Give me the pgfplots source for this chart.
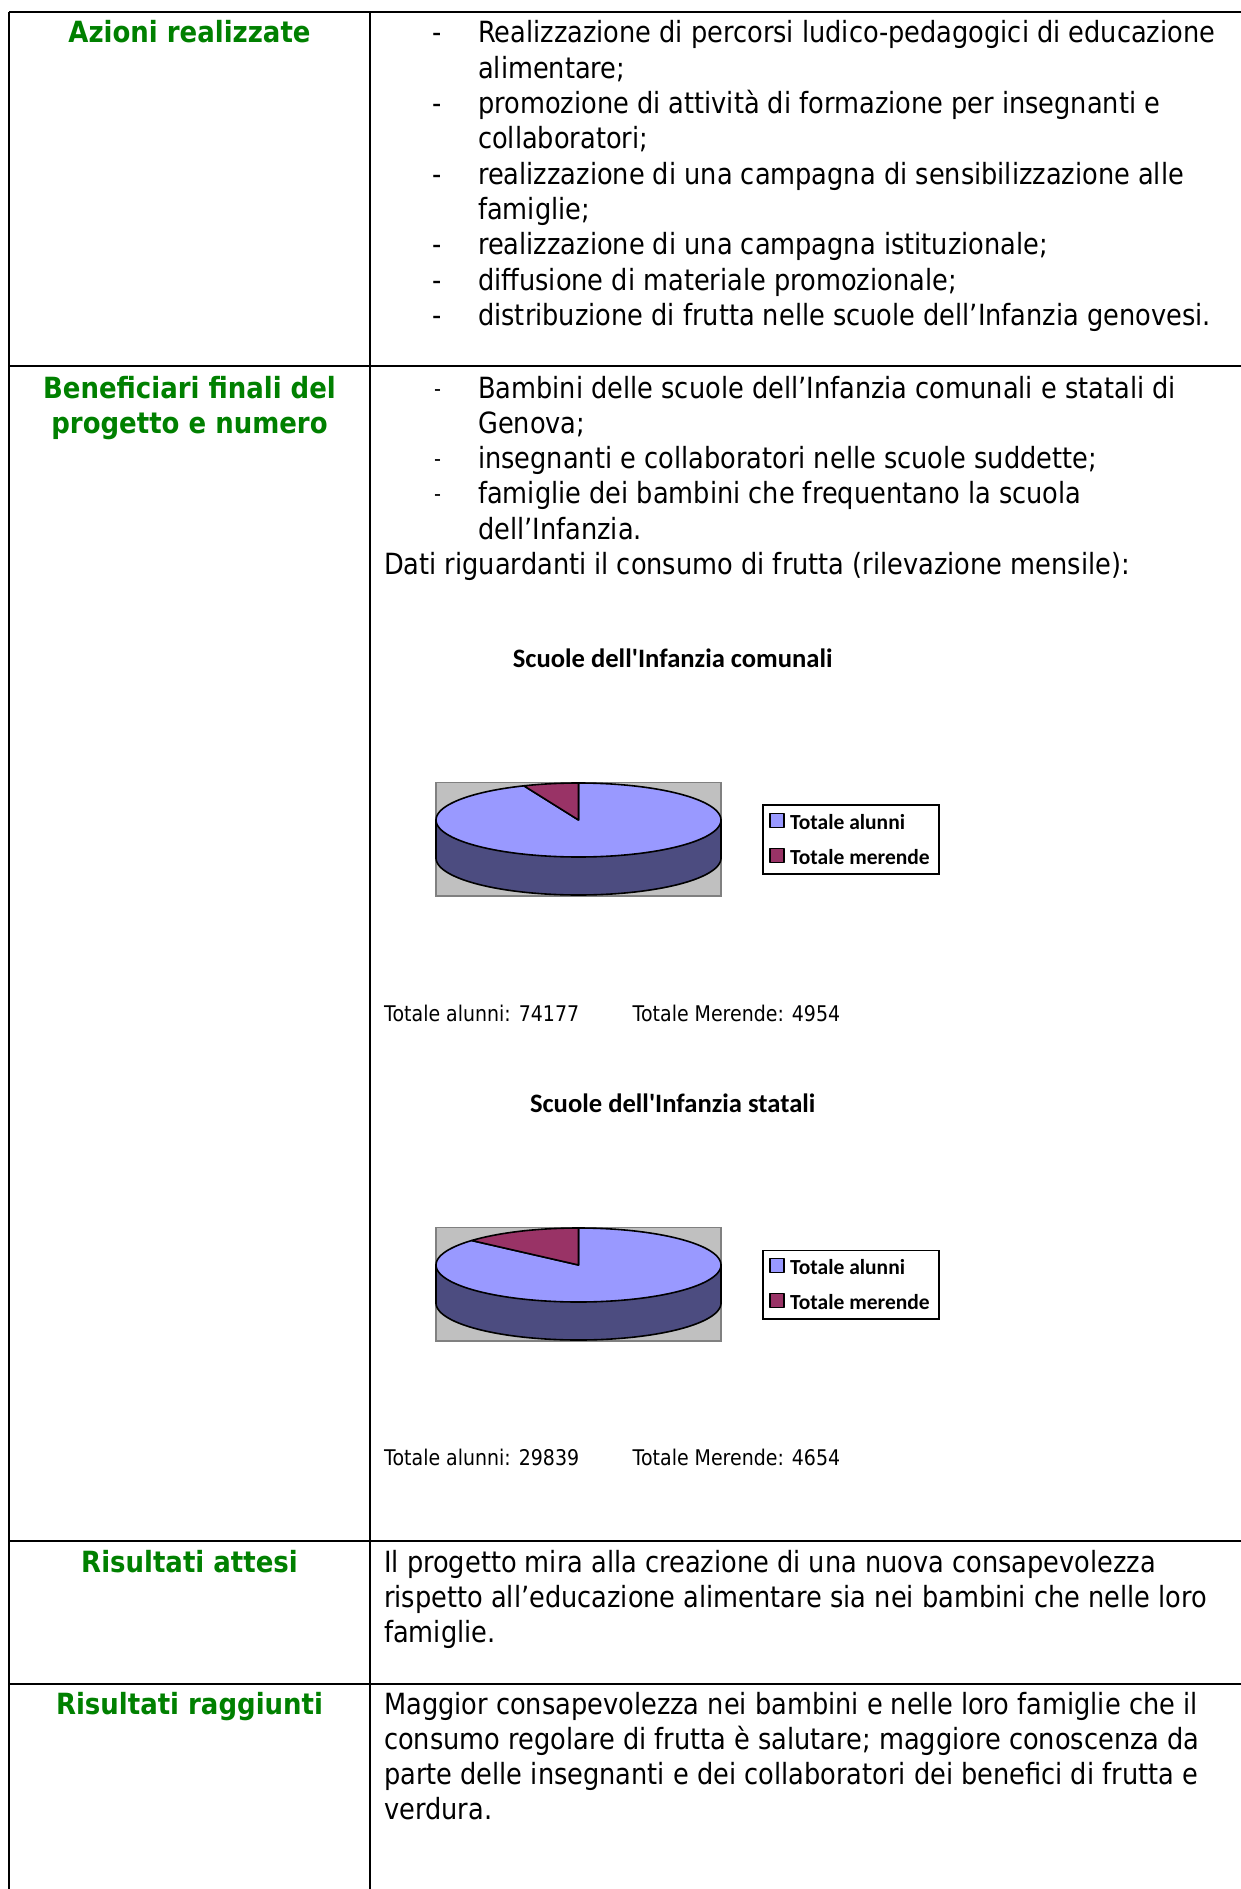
\documentclass[border=0pt]{standalone}
\usepackage{pgfplots}
\pgfplotsset{compat=1.18}
\usepackage{pgfplotstable}
\usepackage{xfp}
\usepackage{fontspec}
\setmainfont{DejaVu Sans}[FakeStretch=0.878, BoldFeatures={FakeStretch=0.89}]
\newfontfamily\chartfont{Carlito}
\definecolor{hdrgreen}{RGB}{0,128,0}
\definecolor{alunniCol}{RGB}{153,153,255}
\definecolor{merendeCol}{RGB}{153,51,102}
\definecolor{sideCol}{RGB}{76,76,128}
\definecolor{bgGray}{RGB}{192,192,192}
\definecolor{frameGray}{RGB}{128,128,128}

\pgfplotstableread{
serie valore
alunni 74177
merende 4954
}\comunali
\pgfplotstableread{
serie valore
alunni 29839
merende 4654
}\statali
\pgfplotstablegetelem{0}{valore}\of\comunali \edef\Ac{\pgfplotsretval}
\pgfplotstablegetelem{1}{valore}\of\comunali \edef\Mc{\pgfplotsretval}
\pgfplotstablegetelem{0}{valore}\of\statali \edef\As{\pgfplotsretval}
\pgfplotstablegetelem{1}{valore}\of\statali \edef\Ms{\pgfplotsretval}
\edef\angC{\fpeval{round(90+360*\Mc/(\Ac+\Mc),3)}}
\edef\angS{\fpeval{round(90+360*\Ms/(\As+\Ms),3)}}

\newcommand\bodyfont{\fontsize{29.2}{35.3}\selectfont}
\newcommand\smallfont{\fontsize{21.6}{26}\selectfont}
\newcommand\dashfont{\fontsize{22}{26}\selectfont}

\pgfplotsset{pie3d/.style={
  scale only axis, width=285pt, height=113.5pt,
  xmin=-142.5, xmax=142.5, ymin=-76, ymax=37.5,
  ticks=none, clip=false,
  axis line style={draw=frameGray, line width=1.5pt},
  axis background/.style={fill=bgGray},
  anchor=south west,
  area legend,
  legend cell align=left,
  legend image code/.code={\draw[##1, draw=black, line width=1.3pt] (0pt,-5pt) rectangle (14pt,9pt);},
  legend style={at={(1.1439,0.8062)}, anchor=north west, draw=black, line width=1.6pt, fill=white,
    font=\chartfont\bfseries\fontsize{21.5}{24}\selectfont,
    inner xsep=6.5pt, inner ysep=4pt, row sep=9.3pt,
    /tikz/every odd column/.append style={column sep=3pt},
    nodes={inner xsep=2.5pt, inner ysep=0pt, text height=19.75pt, text depth=5.95pt}},
}}

\newcommand\pie[1]{%
  \addplot[forget plot, fill=sideCol, draw=black, line width=1.6pt, line join=round, domain=180:360, samples=121]
    ({142.5*cos(x)},{37*sin(x)-38}) -- (axis cs:142.5,0) -- (axis cs:-142.5,0) -- cycle;
  \addplot[fill=alunniCol, draw=black, line width=1.6pt, line join=round, domain=#1:450, samples=181]
    ({142.5*cos(x)},{37*sin(x)}) -- (axis cs:0,0) -- cycle;
  \addlegendentry{Totale alunni}
  \addplot[fill=merendeCol, draw=black, line width=1.6pt, line join=round, domain=90:#1, samples=31]
    ({142.5*cos(x)},{37*sin(x)}) -- (axis cs:0,0) -- cycle;
  \addlegendentry{Totale merende}
}

\begin{document}
\begin{tikzpicture}[x=1pt,y=1pt]
\path[use as bounding box] (0,0) rectangle (1241,-1889);
\fill[white] (0,0) rectangle (1241,-1889);

% table rules
\begin{scope}[line width=2.2pt]
\draw (9,-12) -- (1241,-12);
\draw (9,-12) -- (9,-1889);
\draw (370,-12) -- (370,-1889);
\draw (9,-366) -- (1241,-366);
\draw (9,-1541) -- (1241,-1541);
\draw (9,-1684) -- (1241,-1684);
\end{scope}

% headers
\begin{scope}[every node/.style={anchor=base, inner sep=0pt, font=\bodyfont\bfseries, text=hdrgreen}]
\node at (189.5,-43) {Azioni realizzate};
\node at (189.5,-398) {Beneficiari finali del};
\node at (189.5,-433.3) {progetto e numero};
\node at (189.5,-1572) {Risultati attesi};
\node at (189.5,-1714) {Risultati raggiunti};
\end{scope}

% body text
\begin{scope}[every node/.style={anchor=base west, inner sep=0pt, font=\bodyfont}]
\node at (432,-43) {-};
\node at (478,-43) {Realizzazione di percorsi ludico-pedagogici di educazione};
\node at (478,-78.3) {alimentare;};
\node at (432,-113.6) {-};
\node at (478,-113.6) {promozione di attività di formazione per insegnanti e};
\node at (478,-148.9) {collaboratori;};
\node at (432,-184.2) {-};
\node at (478,-184.2) {realizzazione di una campagna di sensibilizzazione alle};
\node at (478,-219.5) {famiglie;};
\node at (432,-254.8) {-};
\node at (478,-254.8) {realizzazione di una campagna istituzionale;};
\node at (432,-290.1) {-};
\node at (478,-290.1) {diffusione di materiale promozionale;};
\node at (432,-325.4) {-};
\node at (478,-325.4) {distribuzione di frutta nelle scuole dell’Infanzia genovesi.};

\node[font=\dashfont] at (434,-396) {-};
\node at (478,-398) {Bambini delle scuole dell’Infanzia comunali e statali di};
\node at (478,-433.3) {Genova;};
\node[font=\dashfont] at (434,-466.6) {-};
\node at (478,-468.6) {insegnanti e collaboratori nelle scuole suddette;};
\node[font=\dashfont] at (434,-501.9) {-};
\node at (478,-503.9) {famiglie dei bambini che frequentano la scuola};
\node at (478,-539.2) {dell’Infanzia.};
\node at (384,-574.5) {Dati riguardanti il consumo di frutta (rilevazione mensile):};

\node at (384,-1572) {Il progetto mira alla creazione di una nuova consapevolezza};
\node at (384,-1607.3) {rispetto all’educazione alimentare sia nei bambini che nelle loro};
\node at (384,-1642.6) {famiglie.};

\node at (384,-1714) {Maggior consapevolezza nei bambini e nelle loro famiglie che il};
\node at (384,-1749.3) {consumo regolare di frutta è salutare; maggiore conoscenza da};
\node at (384,-1784.6) {parte delle insegnanti e dei collaboratori dei benefici di frutta e};
\node at (384,-1819.9) {verdura.};

\node[font=\smallfont] at (384,-1021) {Totale alunni: 74177};
\node[font=\smallfont] at (632.5,-1021) {Totale Merende: 4954};
\node[font=\smallfont] at (384,-1465) {Totale alunni: 29839};
\node[font=\smallfont] at (632.5,-1465) {Totale Merende: 4654};
\end{scope}

% chart titles
\node[anchor=base, inner sep=0pt, font=\chartfont\bfseries\fontsize{26.6}{32}\selectfont] at (672.7,-667) {Scuole dell\char39 Infanzia comunali};
\node[anchor=base, inner sep=0pt, font=\chartfont\bfseries\fontsize{26.6}{32}\selectfont] at (672.7,-1112) {Scuole dell\char39 Infanzia statali};

\begin{axis}[pie3d, at={(436pt,-896pt)}]
\pie{\angC}
\end{axis}
\begin{axis}[pie3d, at={(436pt,-1341pt)}]
\pie{\angS}
\end{axis}
\end{tikzpicture}
\end{document}
